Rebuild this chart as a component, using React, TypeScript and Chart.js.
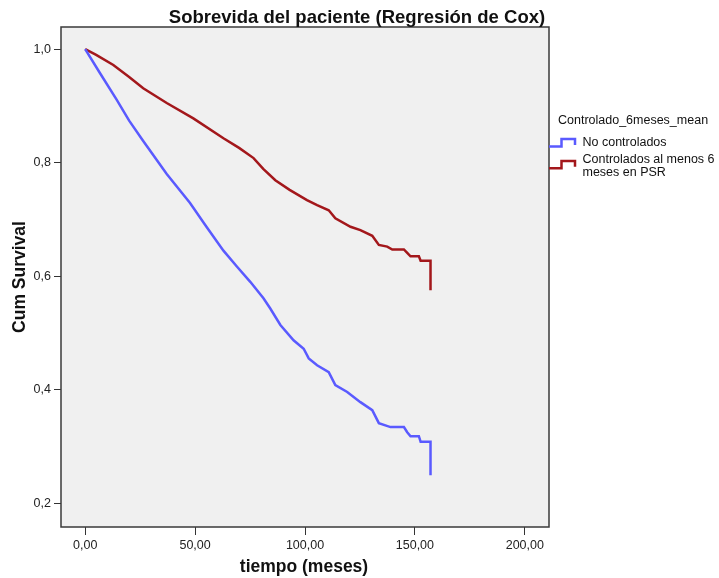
import React, { useEffect, useRef } from 'react';
import { Chart, registerables } from 'chart.js';

Chart.register(...registerables);

const chartTitle = 'Sobrevida del paciente (Regresión de Cox)';
const xAxisTitle = 'tiempo (meses)';
const yAxisTitle = 'Cum Survival';
const legendTitle = 'Controlado_6meses_mean';
const seriesNames = ['No controlados', 'Controlados al menos 6 meses en PSR'];

// No controlados
const noCtrlTime = [0, 6.7, 14.3, 20.0, 26.4, 37.1, 47.7, 55.0, 62.9, 69.0, 75.1, 81.1, 84.2, 88.8, 94.8, 99.4, 101.7, 105.5, 110.8, 113.8, 119.2, 125.2, 130.6, 133.6, 138.9, 145.0, 146.5, 148.0, 151.8, 152.6, 157.1, 157.1];
const noCtrlSurv = [1.0, 0.958, 0.911, 0.874, 0.838, 0.78, 0.729, 0.688, 0.645, 0.617, 0.59, 0.561, 0.543, 0.514, 0.487, 0.472, 0.455, 0.443, 0.431, 0.408, 0.396, 0.378, 0.364, 0.341, 0.334, 0.334, 0.325, 0.318, 0.318, 0.308, 0.308, 0.249];

// Controlados al menos 6 meses en PSR
const ctrlTime = [0, 5.0, 12.8, 20.0, 26.4, 37.1, 49.2, 62.9, 70.0, 76.6, 81.0, 86.5, 93.0, 100.9, 105.5, 110.8, 113.8, 120.7, 125.2, 130.6, 133.6, 137.4, 139.7, 145.0, 146.5, 148.0, 151.8, 152.6, 157.1, 157.1];
const ctrlSurv = [1.0, 0.99, 0.972, 0.951, 0.931, 0.905, 0.878, 0.843, 0.826, 0.808, 0.789, 0.769, 0.752, 0.734, 0.725, 0.716, 0.702, 0.687, 0.681, 0.671, 0.655, 0.652, 0.647, 0.647, 0.641, 0.635, 0.635, 0.627, 0.627, 0.575];

const xTicks = [0, 50, 100, 150, 200];
const yTicks = [0.2, 0.4, 0.6, 0.8, 1.0];

const BLUE = '#5a5aff';
const RED = '#a3171b';
const FONT = '"Liberation Sans", Arial, sans-serif';

const toPoints = (t: number[], v: number[]) => t.map((x, i) => ({ x, y: v[i] }));

const decorPlugin = {
  id: 'decor',
  beforeDraw(chart: any) {
    const { ctx, chartArea: a } = chart;
    ctx.save();
    ctx.fillStyle = '#ffffff';
    ctx.fillRect(0, 0, chart.width, chart.height);
    ctx.fillStyle = '#f0f0f0';
    ctx.fillRect(a.left, a.top, a.right - a.left, a.bottom - a.top);
    ctx.restore();
  },
  afterDraw(chart: any) {
    const { ctx, chartArea: a } = chart;
    ctx.save();
    // frame
    ctx.strokeStyle = '#3a3a3a';
    ctx.lineWidth = 1.5;
    ctx.strokeRect(a.left, a.top, a.right - a.left, a.bottom - a.top);

    // title
    ctx.fillStyle = '#111';
    ctx.font = `bold 18.5px ${FONT}`;
    ctx.textAlign = 'center';
    ctx.textBaseline = 'alphabetic';
    ctx.fillText(chartTitle, 357, 23);

    // axis titles
    ctx.font = `bold 17.5px ${FONT}`;
    ctx.textBaseline = 'middle';
    ctx.fillText(xAxisTitle, (a.left + a.right) / 2 - 1, 567);
    ctx.save();
    ctx.translate(20, (a.top + a.bottom) / 2);
    ctx.rotate(-Math.PI / 2);
    ctx.fillText(yAxisTitle, 0, 0);
    ctx.restore();

    // legend
    const lx = a.right;
    ctx.textAlign = 'left';
    ctx.font = `12.5px ${FONT}`;
    ctx.fillStyle = '#111';
    ctx.fillText(legendTitle, 558, 121);
    const drawIcon = (color: string, yLow: number, yHigh: number, yEnd: number) => {
      ctx.strokeStyle = color;
      ctx.lineWidth = 2.5;
      ctx.beginPath();
      ctx.moveTo(lx, yLow);
      ctx.lineTo(561.5, yLow);
      ctx.lineTo(561.5, yHigh);
      ctx.lineTo(575, yHigh);
      ctx.lineTo(575, yEnd);
      ctx.stroke();
    };
    drawIcon(BLUE, 146.5, 139, 145);
    ctx.fillText(seriesNames[0], 582.5, 143);
    drawIcon(RED, 168.3, 161, 166.7);
    ctx.fillText('Controlados al menos 6', 582.5, 160);
    ctx.fillText('meses en PSR', 582.5, 173);
    ctx.restore();
  },
};

export default function App() {
  const ref = useRef<HTMLCanvasElement>(null);

  useEffect(() => {
    if (!ref.current) return;
    const chart = new Chart(ref.current, {
      type: 'line',
      data: {
        datasets: [
          {
            label: seriesNames[0],
            data: toPoints(noCtrlTime, noCtrlSurv),
            borderColor: BLUE,
            borderWidth: 2.5,
            pointRadius: 0,
            tension: 0,
            fill: false,
          },
          {
            label: seriesNames[1],
            data: toPoints(ctrlTime, ctrlSurv),
            borderColor: RED,
            borderWidth: 2.5,
            pointRadius: 0,
            tension: 0,
            fill: false,
          },
        ],
      },
      options: {
        responsive: false,
        maintainAspectRatio: false,
        animation: false,
        events: [],
        layout: { padding: { left: 0, top: 27, right: 170, bottom: 0 } },
        plugins: {
          legend: { display: false },
          title: { display: false },
          tooltip: { enabled: false },
        },
        scales: {
          x: {
            type: 'linear',
            min: -11,
            max: 211,
            afterBuildTicks: (s: any) => {
              s.ticks = xTicks.map((v) => ({ value: v }));
            },
            afterFit: (s: any) => {
              s.height = 51;
            },
            grid: {
              display: true,
              drawOnChartArea: false,
              drawTicks: true,
              tickLength: 8,
              color: '#333',
              lineWidth: 1,
            },
            border: { display: false },
            ticks: {
              padding: 3,
              color: '#222',
              font: { family: FONT, size: 12.5 },
              maxRotation: 0,
              autoSkip: false,
              callback: (v: any) => Number(v).toFixed(2).replace('.', ','),
            },
          },
          y: {
            type: 'linear',
            min: 0.158,
            max: 1.039,
            afterBuildTicks: (s: any) => {
              s.ticks = yTicks.map((v) => ({ value: v }));
            },
            afterFit: (s: any) => {
              s.width = 61;
            },
            grid: {
              display: true,
              drawOnChartArea: false,
              drawTicks: true,
              tickLength: 7,
              color: '#333',
              lineWidth: 1,
            },
            border: { display: false },
            ticks: {
              padding: 3,
              color: '#222',
              font: { family: FONT, size: 12.5 },
              autoSkip: false,
              callback: (v: any) => Number(v).toFixed(1).replace('.', ','),
            },
          },
        },
      },
      plugins: [decorPlugin],
    });
    return () => chart.destroy();
  }, []);

  return (
    <div style={{ position: 'fixed', left: 0, top: 0, width: 719, height: 578, background: '#fff' }}>
      <canvas ref={ref} width={719} height={578} style={{ display: 'block' }} />
    </div>
  );
}
